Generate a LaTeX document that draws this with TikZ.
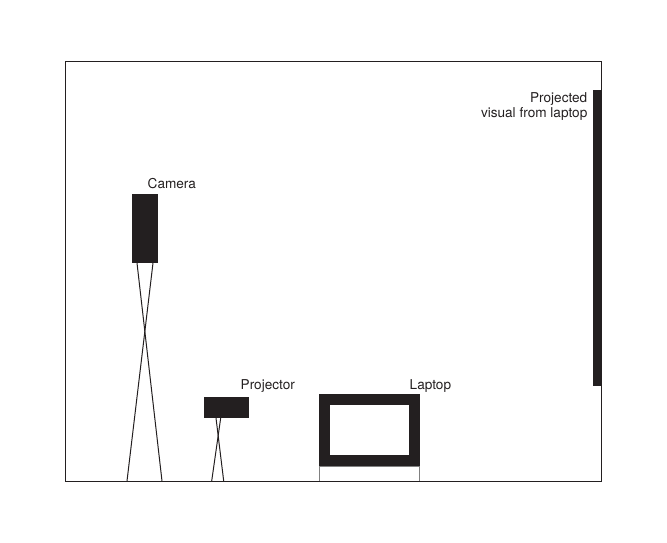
\documentclass[tikz,border=0pt]{standalone}
\usepackage{fontspec}
\setmainfont{TeX Gyre Heros}
\usetikzlibrary{positioning}
\definecolor{ink}{HTML}{231F20}

\begin{document}
\begin{tikzpicture}[x=1pt, y=-1pt,
    label text/.style={font=\fontsize{13.6}{15}\selectfont, inner sep=0pt, text=ink},
    block/.style={fill=ink, inner sep=0pt}]
    \useasboundingbox (0,0) rectangle (667,542);

    % Draw the laptop stand first, so the floor stays on top
    \draw[gray, line width=0.8pt] (319.6,481) -- (319.6,466) -- (419.8,466) -- (419.8,481);

    % Draw the room
    \node[draw=ink, line width=1pt, inner sep=0pt, minimum width=536pt, minimum height=420pt] (room) at (333,271) {};

    % Draw the camera on its stand
    \node[block, minimum width=26.6pt, minimum height=69pt] (camera) at (145,228.5) {};
    \coordinate (camtl) at (137,263);
    \coordinate (camtr) at (153,263);
    \coordinate (camfl) at (127,481);
    \coordinate (camfr) at (162,481);
    \draw[ink, line width=1pt] (camtl) -- (camfr);
    \draw[ink, line width=1pt] (camtr) -- (camfl);
    \node[label text, anchor=west] (camlabel) at (147.5,184) {Camera};

    % Draw the projector on its stand
    \node[block, minimum width=45pt, minimum height=21.6pt] (projector) at (226.8,407.5) {};
    \coordinate (projtl) at (216,418);
    \coordinate (projtr) at (220.7,418);
    \coordinate (projfl) at (211.7,481);
    \coordinate (projfr) at (223.7,481);
    \draw[ink, line width=1pt] (projtl) -- (projfr);
    \draw[ink, line width=1pt] (projtr) -- (projfl);
    \node[label text, anchor=west] (projlabel) at (240.5,386) {Projector};

    % Draw the laptop
    \node[draw=ink, fill=white, line width=11pt, inner sep=0pt, minimum width=89.7pt, minimum height=60.7pt] (laptop) at (369.7,430.2) {};
    \node[label text, anchor=west] (laplabel) at (409.5,386) {Laptop};

    % Draw the projection screen
    \node[block, minimum width=7.7pt, minimum height=296pt] (screen) at (597.2,238) {};
    \node[label text, align=right, anchor=east] (screenlabel) at (587.5,106.5) {Projected\\visual from laptop};
\end{tikzpicture}
\end{document}
